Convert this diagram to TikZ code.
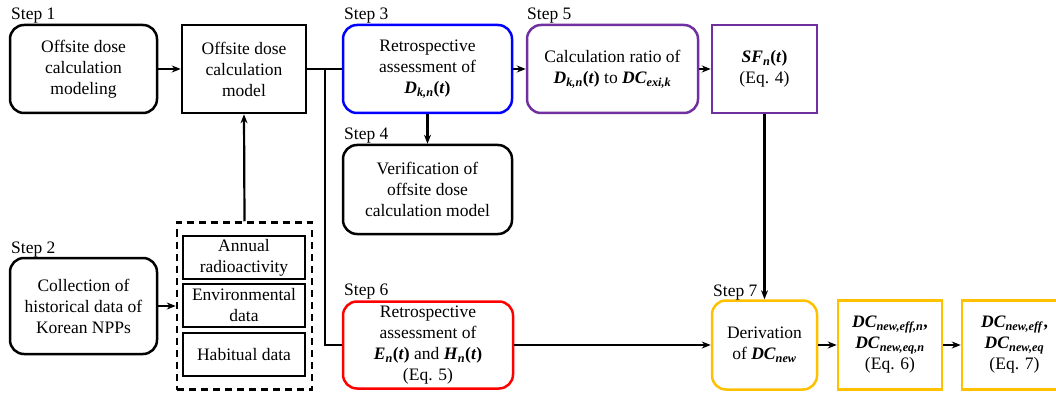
\documentclass[tikz,border=0pt]{standalone}
\usepackage{fontspec}
\setmainfont{Liberation Serif}
\usetikzlibrary{arrows.meta,calc}
\definecolor{cblue}{RGB}{0,0,255}
\definecolor{cpurple}{RGB}{112,48,160}
\definecolor{cred}{RGB}{255,0,0}
\definecolor{corange}{RGB}{255,192,0}
\newcommand{\bi}[1]{\textbf{\textit{#1}}}
\newcommand{\sbi}[1]{\textsubscript{\bi{#1}}}
\newcommand{\bp}[1]{\textbf{(}\bi{#1}\textbf{)}}
\begin{document}
\begin{tikzpicture}[x=1pt,y=-1pt,
  every node/.style={font=\rmfamily\fontsize{17.5}{21}\selectfont, align=center, inner sep=0pt},
  rbox/.style={draw=black, line width=2.5pt, rounded corners=14pt, minimum height=88pt},
  sbox/.style={draw=black, line width=2.5pt, minimum height=88pt},
  ibox/.style={draw=black, line width=2.5pt, minimum width=122pt, minimum height=43pt},
  dbox/.style={draw=black, line width=2.5pt, dash pattern=on 7pt off 5pt, minimum width=135pt, minimum height=167pt},
  conn/.style={line width=2.2pt, draw=black},
  arr/.style={conn, -{Stealth[length=9pt,width=7pt]}},
  lbl/.style={anchor=base west}
]
\useasboundingbox (0,0) rectangle (1056,395);
% top row
\node[rbox, minimum width=147pt] (s1) at (83.5,69) {Offsite dose\\calculation\\modeling};
\node[sbox, minimum width=124pt] (model) at (244,69) {Offsite dose\\calculation\\model};
\node[rbox, draw=cblue, minimum width=169pt] (s3) at (427.5,69) {Retrospective\\assessment of\\\bi{D}\sbi{k,n}\bp{t}};
\node[rbox, draw=cpurple, minimum width=171pt] (s5) at (612.5,69) {Calculation ratio of\\\bi{D}\sbi{k,n}\bp{t} to \bi{DC}\sbi{exi,k}};
\node[sbox, draw=cpurple, minimum width=105pt] (sf) at (764.5,69) {\bi{SF}\sbi{n}\bp{t}\\(Eq. 4)};
% step 4
\node[rbox, minimum width=169pt, minimum height=89pt] (s4) at (427.5,189.5) {Verification of\\offsite dose\\calculation model};
% step 2
\node[rbox, minimum width=147pt, minimum height=96pt] (s2) at (83.5,306) {Collection of\\historical data of\\Korean NPPs};
\node[dbox] (dash) at (244.5,306) {};
\node[ibox] (ann) at (244,257.5) {Annual\\radioactivity};
\node[ibox] (env) at (244,305.5) {Environmental\\data};
\node[ibox] (hab) at (244,354.5) {Habitual data};
% bottom row
\node[rbox, draw=cred, minimum width=170pt, minimum height=87pt] (s6) at (428,345) {Retrospective\\assessment of\\\bi{E}\sbi{n}\bp{t} and \bi{H}\sbi{n}\bp{t}\\(Eq. 5)};
\node[rbox, draw=corange, minimum width=105pt, minimum height=89pt] (s7) at (764.5,345) {Derivation\\of \bi{DC}\sbi{new}};
\node[sbox, draw=corange, minimum width=104pt, minimum height=89pt] (dc1) at (890,345) {\bi{DC}\sbi{new,eff,n}\textbf{,}\\\bi{DC}\sbi{new,eq,n}\\(Eq. 6)};
\node[sbox, draw=corange, minimum width=105pt, minimum height=89pt] (dc2) at (1014.5,345) {\bi{DC}\sbi{new,eff}\textbf{,}\\\bi{DC}\sbi{new,eq}\\(Eq. 7)};
% step labels
\node[lbl] (l1) at (11,20) {Step 1};
\node[lbl] (l2) at (11,253) {Step 2};
\node[lbl] (l3) at (344,20) {Step 3};
\node[lbl] (l4) at (344,140) {Step 4};
\node[lbl] (l5) at (527,20) {Step 5};
\node[lbl] (l6) at (344,295) {Step 6};
\node[lbl] (l7) at (713,296) {Step 7};
% connectors
\coordinate (J) at (325,69);
\draw[arr] (s1.east) -- (model.west);
\draw[conn] (model.east) -- (s3.west);
\draw[conn] (J) |- (s6.west);
\draw[arr] (s3.south) -- (s4.north);
\draw[arr] (s3.east) -- (s5.west);
\draw[arr] (s5.east) -- (sf.west);
\draw[arr] (sf.south) -- (s7.north);
\draw[arr] (s6.east) -- (s7.west);
\draw[arr] (s7.east) -- (dc1.west);
\draw[arr] (dc1.east) -- (dc2.west);
\draw[arr] (s2.east) -- (dash.west);
\draw[arr] (dash.north) -- (model.south);
\end{tikzpicture}
\end{document}
